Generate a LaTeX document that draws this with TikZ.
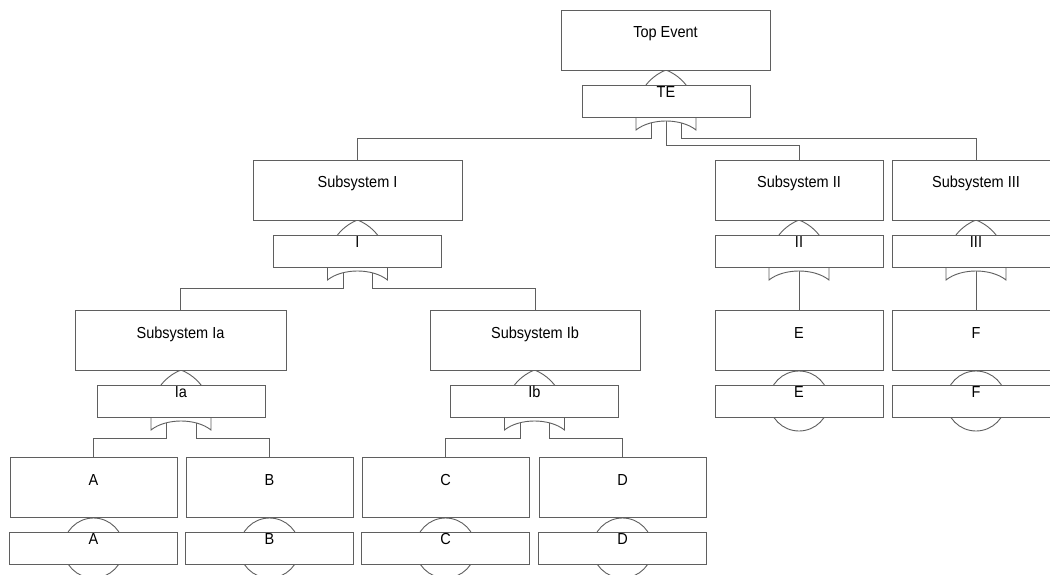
\documentclass[tikz,border=0pt]{standalone}
\usepackage{fontspec}
\usepackage{graphicx}
\setmainfont{Liberation Sans}
\pgfdeclarelayer{wires}
\pgfdeclarelayer{symbols}
\pgfsetlayers{wires,symbols,main}

\definecolor{linegray}{RGB}{95,95,95}
\tikzset{
  evbox/.style={draw=linegray, fill=white, line width=0.9pt, minimum height=60pt,
                inner sep=0pt, anchor=north},
  gatebox/.style={draw=linegray, fill=white, line width=0.9pt, minimum height=32pt,
                  minimum width=168pt, inner sep=0pt, anchor=north},
  lbl/.style={font=\fontsize{14.5}{16}\selectfont, anchor=base, inner sep=0pt},
  wire/.style={draw=linegray, line width=0.9pt},
  symb/.style={draw=linegray, line width=0.9pt, fill=white},
}
% slightly tall lettering
\newcommand\tall[1]{\scalebox{1}[1.1]{#1}}

% event box: name, centre x, top y, width, text
\newcommand\ftevent[5]{%
  \node[evbox, minimum width=#4pt] (#1) at (#2,#3) {};
  \node[lbl] (#1-t) at (#2,#3+28) {\tall{#5}};
}
% gate box with OR symbol: name, centre x, top y, text
\newcommand\ftorgate[4]{%
  \node[gatebox] (#1) at (#2,#3) {};
  \node[lbl] (#1-t) at (#2,#3+12.5) {\tall{#4}};
  \begin{pgfonlayer}{symbols}
    \path[symb] (#2-30,#3+45) -- (#2-30,#3+29)
      .. controls (#2-30,#3+9.55) and (#2-18.07,#3-7.82) .. (#2,#3-15)
      .. controls (#2+18.07,#3-7.82) and (#2+30,#3+9.55) .. (#2+30,#3+29)
      -- (#2+30,#3+45)
      .. controls (#2+15,#3+33) and (#2-15,#3+33) .. cycle;
  \end{pgfonlayer}
}
% basic event box with circle: name, centre x, top y, text
\newcommand\ftbasic[4]{%
  \node[gatebox] (#1) at (#2,#3) {};
  \node[lbl] (#1-t) at (#2,#3+12.5) {\tall{#4}};
  \begin{pgfonlayer}{symbols}
    \path[symb] (#2,#3+16) circle[radius=30pt];
  \end{pgfonlayer}
}

\begin{document}
\begin{tikzpicture}[x=1pt, y=-1pt]
  \useasboundingbox (0,0) rectangle (1050,575);
  \clip (0,0) rectangle (1050,575);

  % top level
  \ftevent{top}{665.5}{10}{209}{Top Event}
  \ftorgate{gTE}{666}{85}{TE}

  % subsystems
  \ftevent{sI}{357.5}{160}{209}{Subsystem I}
  \ftorgate{gI}{357.5}{235}{I}
  \ftevent{sII}{799}{160}{168}{Subsystem II}
  \ftorgate{gII}{799}{235}{II}
  \ftevent{sIII}{976}{160}{168}{Subsystem III}
  \ftorgate{gIII}{976}{235}{III}

  \ftevent{sIa}{180.5}{310}{211}{Subsystem Ia}
  \ftorgate{gIa}{181}{385}{Ia}
  \ftevent{sIb}{535}{310}{210}{Subsystem Ib}
  \ftorgate{gIb}{534.5}{385}{Ib}

  % basic events
  \ftevent{eE}{799}{310}{168}{E}
  \ftbasic{bE}{799}{385}{E}
  \ftevent{eF}{976}{310}{168}{F}
  \ftbasic{bF}{976}{385}{F}

  \ftevent{eA}{93.5}{457}{167}{A}
  \ftbasic{bA}{93.5}{532}{A}
  \ftevent{eB}{269.5}{457}{167}{B}
  \ftbasic{bB}{269.5}{532}{B}
  \ftevent{eC}{445.5}{457}{167}{C}
  \ftbasic{bC}{445.5}{532}{C}
  \ftevent{eD}{622.5}{457}{167}{D}
  \ftbasic{bD}{622.5}{532}{D}

  % connectors
  \begin{pgfonlayer}{wires}
    \draw[wire] ([xshift=-15pt]gTE.south) -- ++(0,21) -| (sI.north);
    \draw[wire] (gTE.south) -- ++(0,28) -| (sII.north);
    \draw[wire] ([xshift=15pt]gTE.south) -- ++(0,21) -| (sIII.north);

    \draw[wire] ([xshift=-14.5pt]gI.south) -- ++(0,20.5) -| (sIa.north);
    \draw[wire] ([xshift=15pt]gI.south) -- ++(0,20.5) -| (sIb.north);
    \draw[wire] (gII.south) -- (eE.north);
    \draw[wire] (gIII.south) -- (eF.north);

    \draw[wire] ([xshift=-14.5pt]gIa.south) -- ++(0,20.5) -| (eA.north);
    \draw[wire] ([xshift=15pt]gIa.south) -- ++(0,20.5) -| (eB.north);
    \draw[wire] ([xshift=-14.5pt]gIb.south) -- ++(0,20.5) -| (eC.north);
    \draw[wire] ([xshift=15pt]gIb.south) -- ++(0,20.5) -| (eD.north);
  \end{pgfonlayer}
\end{tikzpicture}
\end{document}
